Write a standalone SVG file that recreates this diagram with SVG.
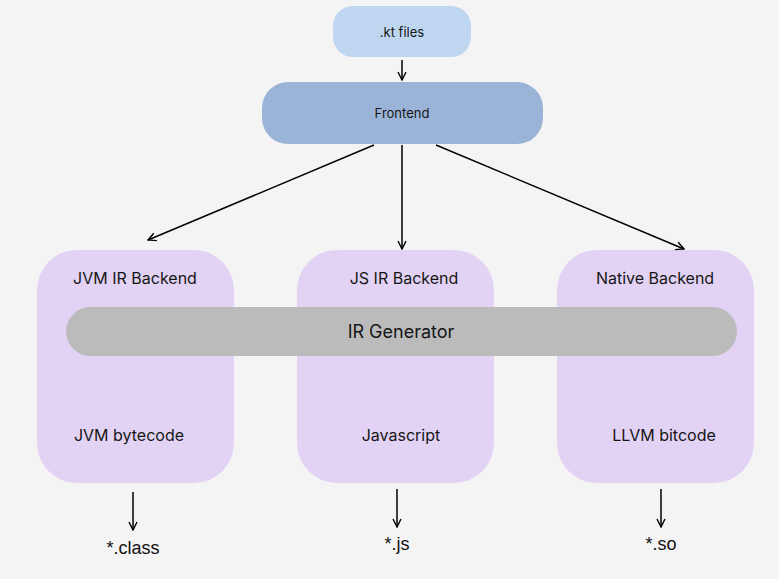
<svg xmlns="http://www.w3.org/2000/svg" width="779" height="579" viewBox="0 0 779 579">
<defs>
<marker id="ah" viewBox="0 0 10 10" refX="9" refY="5" markerWidth="10" markerHeight="10" markerUnits="userSpaceOnUse" orient="auto">
<path d="M1,1 L9,5 L1,9" fill="none" stroke="#000" stroke-width="1.4"/>
</marker>
<style>
.t{font-family:Inter,"Liberation Sans",sans-serif;fill:#161616;text-anchor:middle}
.s13{font-size:13px}
.s16{font-size:16px}
.s19{font-size:18px}
.out{font-family:"Liberation Sans",Arial,sans-serif;font-size:18px;fill:#111;text-anchor:middle}
.be{fill:#e2d3f4}
.ln{stroke:#000;stroke-width:1.5;fill:none;marker-end:url(#ah)}
</style>
</defs>
<rect width="779" height="579" fill="#f4f4f4"/>
<g id="kt">
<rect x="333" y="6" width="138" height="51" rx="20" fill="#bed6f0"/>
<text class="t s13" x="402" y="37">.kt files</text>
</g>
<g id="frontend">
<rect x="262" y="82" width="281" height="62" rx="26" fill="#9ab4d8"/>
<text class="t s13" x="402" y="118">Frontend</text>
</g>
<g id="jvm">
<rect class="be" x="37" y="250" width="197" height="233" rx="40"/>
<text class="t s16" x="135" y="284">JVM IR Backend</text>
<text class="t s16" x="129" y="441">JVM bytecode</text>
</g>
<g id="js">
<rect class="be" x="297" y="250" width="197" height="233" rx="40"/>
<text class="t s16" x="404" y="284">JS IR Backend</text>
<text class="t s16" x="401" y="441">Javascript</text>
</g>
<g id="native">
<rect class="be" x="557" y="250" width="197" height="233" rx="40"/>
<text class="t s16" x="655" y="284">Native Backend</text>
<text class="t s16" x="664" y="441">LLVM bitcode</text>
</g>
<g id="irgen">
<rect x="66" y="307" width="671" height="49" rx="24.5" fill="#bbbbbb"/>
<text class="t s19" x="401" y="338">IR Generator</text>
</g>
<g id="out-class"><text class="out" x="133" y="554">*.class</text></g>
<g id="out-js"><text class="out" x="397" y="550">*.js</text></g>
<g id="out-so"><text class="out" x="661" y="550">*.so</text></g>
<g id="connectors">
<line class="ln" x1="402" y1="60" x2="402" y2="80"/>
<line class="ln" x1="374" y1="145" x2="148" y2="240"/>
<line class="ln" x1="402" y1="145" x2="402" y2="249"/>
<line class="ln" x1="436" y1="145" x2="684" y2="249"/>
<line class="ln" x1="133" y1="492" x2="133" y2="530"/>
<line class="ln" x1="397" y1="489" x2="397" y2="527"/>
<line class="ln" x1="661" y1="489" x2="661" y2="527"/>
</g>
</svg>
